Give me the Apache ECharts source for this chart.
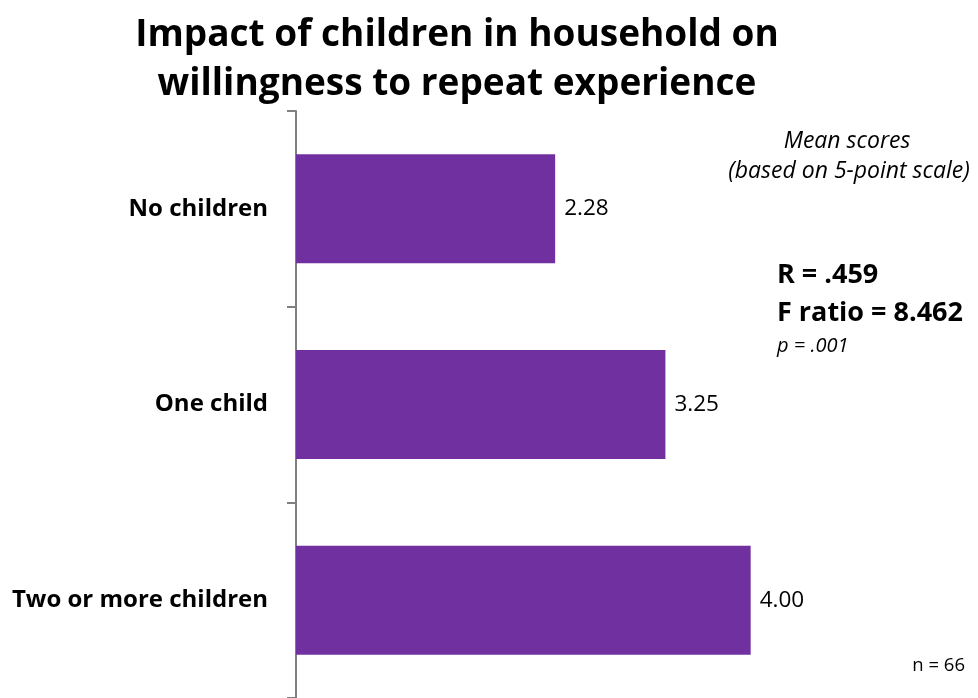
<!DOCTYPE html>
<html>
<head>
<meta charset="utf-8">
<title>Impact of children in household on willingness to repeat experience</title>
<script src="https://cdn.jsdelivr.net/npm/echarts@6/dist/echarts.min.js"></script>
<style>
  html, body { margin: 0; padding: 0; background: #ffffff; }
  #chart { width: 978px; height: 698px; }
</style>
</head>
<body>
<div id="chart"></div>
<script>
// Household groups and their mean willingness scores (5-point scale)
const categories = ['No children', 'One child', 'Two or more children'];
const meanScores = [2.28, 3.25, 4.00];

// Statistics printed beside the bars
const statsLines = ['R = .459', 'F ratio = 8.462'];
const pValueText = 'p = .001';
const noteLines = ['Mean scores', '(based on 5-point scale)'];
const sampleText = 'n = 66';

const FONT = '"Open Sans", Lato, sans-serif';

const chart = echarts.init(document.getElementById('chart'), null, { renderer: 'canvas' });

function note(text, x, y, extra) {
  return {
    type: 'text',
    x: x, y: y,
    style: Object.assign({
      text: text,
      fontFamily: FONT,
      fontSize: 18,
      fill: '#000000',
      textAlign: 'left',
      textVerticalAlign: 'middle'
    }, extra)
  };
}

chart.setOption({
  backgroundColor: '#ffffff',
  animation: false,
  title: {
    text: 'Impact of children in household on\nwillingness to repeat experience',
    left: 452,
    textAlign: 'center',
    top: 6,
    textStyle: {
      fontFamily: FONT,
      fontWeight: 'bold',
      fontSize: 37,
      lineHeight: 49,
      color: '#000000'
    }
  },
  grid: {
    left: 296,
    top: 111,
    width: 682,
    height: 588,
    containLabel: false
  },
  xAxis: {
    type: 'value',
    min: 0,
    max: 6,
    show: false
  },
  yAxis: {
    type: 'category',
    inverse: true,
    data: categories,
    axisLine: { show: true, lineStyle: { color: '#808080', width: 2 } },
    axisTick: { show: true, length: 9, lineStyle: { color: '#808080', width: 2 } },
    axisLabel: {
      margin: 28,
      fontFamily: FONT,
      fontWeight: 'bold',
      fontSize: 24,
      color: '#000000'
    },
    splitLine: { show: false }
  },
  series: [{
    type: 'bar',
    data: meanScores,
    barWidth: 109,
    itemStyle: { color: '#7030A0' },
    label: {
      show: true,
      position: 'right',
      distance: 9,
      formatter: p => p.value.toFixed(2),
      fontFamily: FONT,
      fontSize: 22.5,
      color: '#000000'
    }
  }],
  graphic: [
    note(noteLines[0], 847, 141, { textAlign: 'center', fontStyle: 'italic', fontSize: 23 }),
    note(noteLines[1], 849, 171, { textAlign: 'center', fontStyle: 'italic', fontSize: 23 }),
    note(statsLines[0], 777, 275, { fontWeight: 'bold', fontSize: 27 }),
    note(statsLines[1], 777, 313, { fontWeight: 'bold', fontSize: 27 }),
    note(pValueText, 777, 346, { fontStyle: 'italic', fontSize: 20 }),
    note(sampleText, 965, 666, { textAlign: 'right', fontSize: 18.5 })
  ]
});
</script>
</body>
</html>
